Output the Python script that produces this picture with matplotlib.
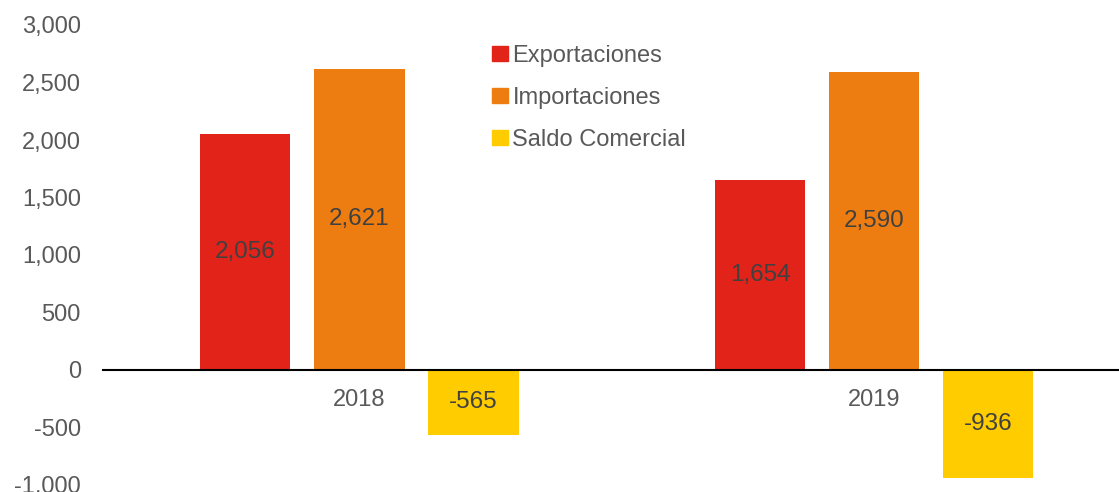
import numpy as np
import matplotlib.pyplot as plt
from matplotlib.patches import Patch

plt.rcParams['font.family'] = ['Liberation Sans', 'DejaVu Sans']

# Data
years = ["2018", "2019"]
exportaciones = [2056, 1654]
importaciones = [2621, 2590]
saldo = [-565, -936]
series_names = ["Exportaciones", "Importaciones", "Saldo Comercial"]
colors = ["#E2231A", "#EE7D11", "#FFCC00"]
text_color = "#595959"

fig = plt.figure(figsize=(11.19, 4.92), dpi=100)
ax = fig.add_axes([103 / 1119, 1 - 485 / 492, 1 - 103 / 1119, (485 - 25) / 492])

x = np.arange(len(years))
width = 0.175
offset = 0.2214

for i, vals in enumerate([exportaciones, importaciones, saldo]):
    bars = ax.bar(x + (i - 1) * offset, vals, width, color=colors[i], label=series_names[i])
    for b, v in zip(bars, vals):
        ax.text(b.get_x() + b.get_width() / 2, v / 2, f"{v:,}",
                ha="center", va="center", fontsize=17.5, color="#404040")

ax.set_ylim(-1000, 3000)
ax.set_xlim(-0.498, 1.475)
ax.set_yticks(np.arange(-1000, 3001, 500))
ax.set_yticklabels([f"{v:,}" for v in range(-1000, 3001, 500)])
ax.set_xticks(x)
ax.set_xticklabels(years)

for s in ["top", "right", "left"]:
    ax.spines[s].set_visible(False)
ax.spines["bottom"].set_position(("data", 0))
ax.spines["bottom"].set_color("black")
ax.spines["bottom"].set_linewidth(1.5)

ax.tick_params(axis="y", length=0, labelsize=17, labelcolor=text_color, pad=16)
ax.tick_params(axis="x", length=0, labelsize=17, labelcolor=text_color, pad=14)

handles = [Patch(color=c) for c in colors]
leg = ax.legend(handles, series_names, loc="upper left", bbox_to_anchor=(0.367, 0.993),
                frameon=False, fontsize=17, handlelength=0.65, handleheight=0.65,
                handletextpad=0.2, labelspacing=0.85, labelcolor=text_color,
                borderaxespad=0.3)

fig.savefig("out.png", dpi=100)
